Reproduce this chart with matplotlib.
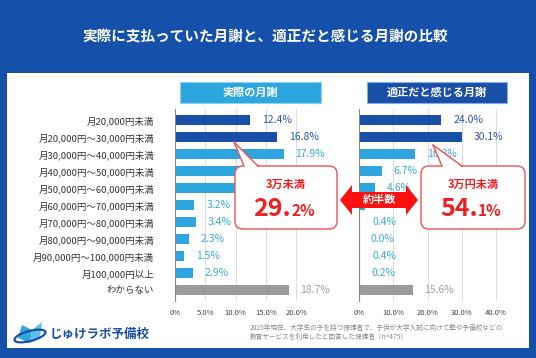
import matplotlib.pyplot as plt
import matplotlib.patches as mpatches
from matplotlib.lines import Line2D

plt.rcParams['font.family'] = ['Noto Sans CJK JP', 'DejaVu Sans']

categories = ["月20,000円未満", "月20,000円〜30,000円未満", "月30,000円〜40,000円未満",
              "月40,000円〜50,000円未満", "月50,000円〜60,000円未満", "月60,000円〜70,000円未満",
              "月70,000円〜80,000円未満", "月80,000円〜90,000円未満", "月90,000円〜100,000円未満",
              "月100,000円以上", "わからない"]
actual = [12.4, 16.8, 17.9, 10.9, 10.0, 3.2, 3.4, 2.3, 1.5, 2.9, 18.7]
ideal = [24.0, 30.1, 16.3, 6.7, 4.6, 1.7, 0.4, 0.0, 0.4, 0.2, 15.6]
left_ticks = [0, 5, 10, 15, 20]
left_ticklabels = ["0%", "5.0%", "10.0%", "15.0%", "20.0%"]
right_ticks = [0, 10, 20, 30, 40]
right_ticklabels = ["0%", "10.0%", "20.0%", "30.0%", "40.0%"]

W, H = 536, 358
BG = "#1550AA"
DARK = "#1A4FA8"
LIGHT = "#2DA6E0"
GRAY = "#9B9B9B"
RED = "#F01E1E"

fig = plt.figure(figsize=(W / 100, H / 100), dpi=100)
fig.patch.set_facecolor(BG)


def px_axes(x0, y0, x1, y1, **kw):
    return fig.add_axes([x0 / W, 1 - y1 / H, (x1 - x0) / W, (y1 - y0) / H], **kw)


# white panel
fig.patches.append(mpatches.Rectangle((7 / W, 1 - 348 / H), 522 / W, 275 / H,
                                      transform=fig.transFigure, facecolor="white",
                                      edgecolor="none", zorder=-10))


def colors_for(n):
    return [DARK, DARK] + [LIGHT] * (n - 3) + [GRAY]


def label_colors(n):
    return ["#2A57A8", "#2A57A8"] + ["#3AAAE0"] * (n - 3) + ["#A0A0A0"]


def draw_panel(ax, values, xmax, ticks, ticklabels, show_cats):
    y = list(range(len(values)))
    ax.set_facecolor("none")
    ax.barh(y, values, height=0.6, color=colors_for(len(values)), zorder=2)
    lc = label_colors(len(values))
    for i, v in enumerate(values):
        ax.annotate(f"{v:.1f}%", (v, i), xytext=(8.5, 0), textcoords="offset points",
                    va="center", ha="left", fontsize=7.5, color=lc[i], zorder=3)
    ax.set_xlim(0, xmax)
    ax.set_ylim(len(values) - 0.35, -0.65)
    ax.set_xticks(ticks)
    ax.set_xticklabels(ticklabels, fontsize=5.5, color="#444444")
    ax.grid(axis="x", color="#DDDDDD", lw=0.8, zorder=0)
    ax.set_axisbelow(True)
    for s in ["top", "right", "bottom"]:
        ax.spines[s].set_visible(False)
    ax.spines["left"].set_color("#888888")
    ax.tick_params(axis="x", length=0, pad=6)
    ax.tick_params(axis="y", length=0)
    ax.set_yticks(y)
    if show_cats:
        ax.set_yticklabels(categories, fontsize=6.8, color="#333333")
        ax.tick_params(axis="y", pad=15)
    else:
        ax.set_yticklabels([])


ax1 = px_axes(175, 109, 175 + 24 * 6.07, 301)
draw_panel(ax1, actual, 24, left_ticks, left_ticklabels, True)
ax2 = px_axes(359, 109, 359 + 44 * 3.43, 301)
draw_panel(ax2, ideal, 44, right_ticks, right_ticklabels, False)

# overlay in pixel coordinates
ov = px_axes(0, 0, W, H)
ov.set_xlim(0, W)
ov.set_ylim(H, 0)
ov.axis("off")
ov.set_facecolor("none")

ov.text(265, 36, "実際に支払っていた月謝と、適正だと感じる月謝の比較", color="white",
        fontsize=10.5, fontweight="bold", ha="center", va="center")

# header boxes
ov.add_patch(mpatches.Rectangle((180, 82), 141, 21, facecolor=LIGHT, edgecolor="#8FD0F0", lw=0.8))
ov.text(250.5, 92.5, "実際の月謝", color="white", fontsize=8, fontweight="bold", ha="center", va="center")
ov.add_patch(mpatches.Rectangle((367, 82), 140, 21, facecolor=DARK, edgecolor="#7FB0E8", lw=0.8))
ov.text(437, 92.5, "適正だと感じる月謝", color="white", fontsize=8, fontweight="bold", ha="center", va="center")


def callout(x0, y0, x1, y1, tip, base, top_text, big, small, split_x):
    ov.add_patch(mpatches.FancyBboxPatch((x0, y0), x1 - x0, y1 - y0,
                                         boxstyle="round,pad=0,rounding_size=8",
                                         facecolor="white", edgecolor="#F05050", lw=1.0, zorder=5))
    ov.add_patch(mpatches.Polygon([tip, (base[0], y0 + 1.5), (base[1], y0 + 1.5)],
                                  closed=True, facecolor="white", edgecolor="none", zorder=6))
    ov.add_line(Line2D([tip[0], base[0]], [tip[1], y0], color="#F05050", lw=1.0, zorder=7))
    ov.add_line(Line2D([tip[0], base[1]], [tip[1], y0], color="#F05050", lw=1.0, zorder=7))
    cx = (x0 + x1) / 2
    ov.text(cx, y0 + 18, top_text, color=RED, fontsize=8, fontweight="bold",
            ha="center", va="center", zorder=8)
    ov.text(split_x, y0 + 50, big, color=RED, fontsize=18, fontweight="bold",
            ha="right", va="baseline", zorder=8)
    ov.text(split_x, y0 + 50, small, color=RED, fontsize=11, fontweight="bold",
            ha="left", va="baseline", zorder=8)


callout(235, 166, 337, 229, (234, 142), (244, 258), "3万未満", "29.", "2%", 291)
callout(421, 166, 525, 229, (433, 145), (442, 462), "3万円未満", "54.", "1%", 478)

# double arrow
arrow = [(340, 200), (352, 185), (352, 192), (406, 192), (406, 185), (418, 200),
         (406, 215), (406, 208), (352, 208), (352, 215)]
ov.add_patch(mpatches.Polygon(arrow, closed=True, facecolor="#FF1010", edgecolor="none", zorder=9))
ov.text(379, 200, "約半数", color="white", fontsize=8, fontweight="bold",
        ha="center", va="center", zorder=10)

# logo
ov.add_patch(mpatches.Polygon([(18, 338), (22, 325), (32, 330), (30, 343)], closed=True,
                              facecolor=LIGHT, edgecolor="none"))
ov.add_patch(mpatches.Polygon([(30, 343), (32, 330), (42, 322), (40, 337)], closed=True,
                              facecolor="#5BC0EC", edgecolor="none"))
ov.add_patch(mpatches.Ellipse((30, 336), 32, 10, angle=-15, facecolor="none",
                              edgecolor=DARK, lw=1.6))
ov.text(50, 334, "じゅけラボ予備校", color=DARK, fontsize=9, fontweight="bold",
        ha="left", va="center")

ov.text(250, 328, "2025年現在、大学生の子を持つ保護者で、子供が大学入試に向けて塾や予備校などの",
        color="#8A8A8A", fontsize=4.8, ha="left", va="center")
ov.text(250, 337, "教育サービスを利用したと回答した保護者（n=475）",
        color="#8A8A8A", fontsize=4.8, ha="left", va="center")

fig.savefig("out.png", dpi=100, facecolor=BG)
